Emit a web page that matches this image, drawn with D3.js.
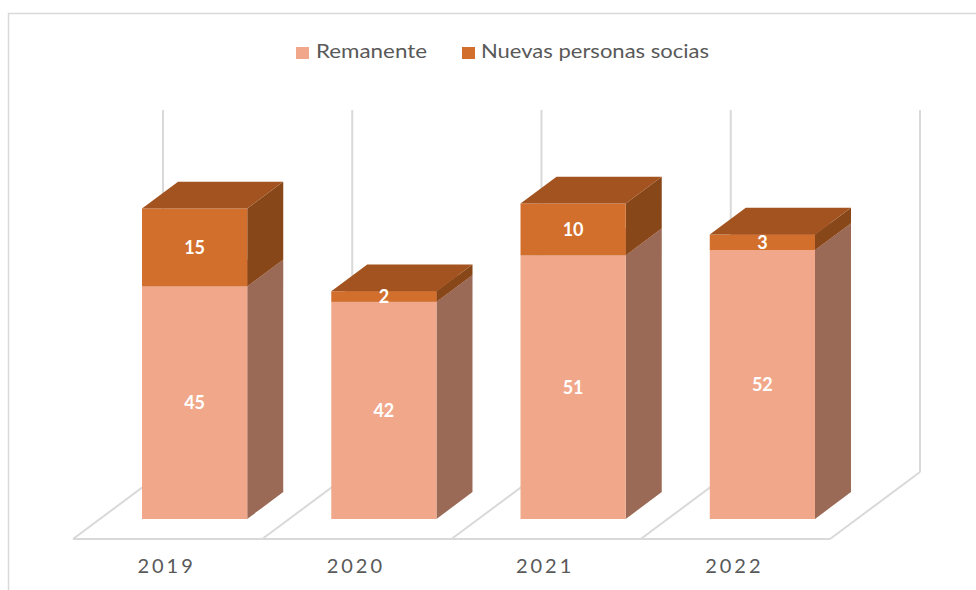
<!DOCTYPE html>
<html lang="es">
<head>
<meta charset="utf-8">
<title>Remanente y nuevas personas socias</title>
<script src="https://cdn.jsdelivr.net/npm/d3@7"></script>
<style>
  html, body { margin: 0; padding: 0; background: #fff; }
  svg { display: block; }
</style>
</head>
<body>
<script>
// data
const years = ["2019", "2020", "2021", "2022"];
const remanente = [45, 42, 51, 52];
const nuevas = [15, 2, 10, 3];
const seriesNames = ["Remanente", "Nuevas personas socias"];

const w = 976, h = 590;
const floorY = 539;          // front edge of the floor
const depthX = 90, depthY = 67;  // full depth offset of the floor
const barZ0 = 0.3, barZ1 = 0.7;  // bar depth, as fraction of floor depth

const svg = d3.select("body").append("svg")
  .attr("width", w).attr("height", h);

// chart border
svg.append("rect")
  .attr("x", 8.5).attr("y", 13.5)
  .attr("width", w).attr("height", h)
  .attr("fill", "none").attr("stroke", "#d9d9d9").attr("stroke-width", 1.5);

const x = d3.scaleBand().domain(years).range([73, 830])
  .paddingInner(0.444).paddingOuter(0.222);
const y = d3.scaleLinear().domain([0, 70]).range([0, 362]);
const z = d3.scaleLinear().domain([0, 1]).range([0, 1]);

// project (front x, height value, depth) -> screen point
function P(px, v, d) {
  return [px + z(d) * depthX, floorY - y(v) - z(d) * depthY];
}
const line = d3.line();

// floor and wall grid
const grid = svg.append("g").attr("fill", "none")
  .attr("stroke", "#d9d9d9").attr("stroke-width", 2);
const bounds = d3.range(years.length + 1).map(i => x.range()[0] + i * x.step());
grid.append("path").attr("d", line([P(bounds[0], 0, 0), P(bounds[bounds.length - 1], 0, 0)]));
bounds.forEach(b => {
  grid.append("path").attr("d", line([P(b, 0, 0), P(b, 0, 1)]));
  grid.append("path").attr("d", line([P(b, 0, 1), P(b, 70, 1)]));
});

// stacked 3D bars
const colors = [
  { front: "#f1a78a", side: "#9a6a56", top: "#c98a70" },
  { front: "#d36f2c", side: "#884719", top: "#a3531f" }
];

years.forEach((yr, i) => {
  const g = svg.append("g");
  const x0 = x(yr), x1 = x(yr) + x.bandwidth();
  const segs = [[0, remanente[i]], [remanente[i], remanente[i] + nuevas[i]]];
  segs.forEach(([v0, v1], s) => {
    const c = colors[s];
    // side
    g.append("path").attr("fill", c.side)
      .attr("d", line([P(x1, v0, barZ0), P(x1, v0, barZ1), P(x1, v1, barZ1), P(x1, v1, barZ0)]) + "Z");
    // front
    g.append("path").attr("fill", c.front)
      .attr("d", line([P(x0, v0, barZ0), P(x1, v0, barZ0), P(x1, v1, barZ0), P(x0, v1, barZ0)]) + "Z");
    // top
    g.append("path").attr("fill", c.top)
      .attr("d", line([P(x0, v1, barZ0), P(x1, v1, barZ0), P(x1, v1, barZ1), P(x0, v1, barZ1)]) + "Z");
  });
  // labels
  segs.forEach(([v0, v1]) => {
    const c = P((x0 + x1) / 2, (v0 + v1) / 2, barZ0);
    g.append("text")
      .attr("x", c[0]).attr("y", c[1])
      .attr("dy", "0.36em")
      .attr("text-anchor", "middle")
      .attr("font-family", "Lato, 'Open Sans', sans-serif")
      .attr("font-weight", "bold").attr("font-size", 18)
      .attr("fill", "#ffffff")
      .text(v1 - v0);
  });
});

// category labels
svg.append("g").selectAll("text").data(years).enter().append("text")
  .attr("x", d => x(d) + x.bandwidth() / 2 - 1)
  .attr("y", 573)
  .attr("text-anchor", "middle")
  .attr("font-family", "Lato, 'Open Sans', sans-serif")
  .attr("font-size", 20)
  .attr("letter-spacing", "3px")
  .attr("fill", "#595959")
  .text(d => d);

// legend
const legendItems = [
  { name: seriesNames[0], color: colors[0].front, sx: 296, tx: 316, len: 111 },
  { name: seriesNames[1], color: colors[1].front, sx: 462, tx: 481, len: 228 }
];
const lg = svg.append("g");
legendItems.forEach(it => {
  lg.append("rect").attr("x", it.sx).attr("y", 47).attr("width", 13).attr("height", 12)
    .attr("fill", it.color);
  lg.append("text").attr("x", it.tx).attr("y", 58)
    .attr("font-family", "Lato, 'Open Sans', sans-serif")
    .attr("font-size", 19)
    .attr("fill", "#595959")
    .attr("textLength", it.len).attr("lengthAdjust", "spacingAndGlyphs")
    .text(it.name);
});
</script>
</body>
</html>
